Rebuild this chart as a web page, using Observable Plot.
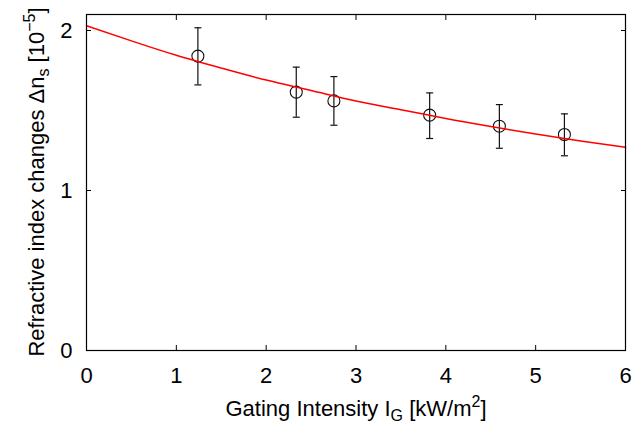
<!DOCTYPE html>
<html><head><meta charset="utf-8">
<script src="https://cdn.jsdelivr.net/npm/d3@7"></script>
<script src="https://cdn.jsdelivr.net/npm/@observablehq/plot@0.6"></script>
<style>body{margin:0;background:#fff} svg{display:block}</style>
</head><body><div id="chart"></div>
<script>
// Measured points
const intensity = [1.24, 2.335, 2.754, 3.82, 4.596, 5.32];
const deltaN    = [1.84, 1.615, 1.56, 1.471, 1.402, 1.35];
const errLow    = [1.66, 1.458, 1.408, 1.325, 1.264, 1.217];
const errHigh   = [2.017, 1.771, 1.712, 1.61, 1.537, 1.479];
// Fit curve
const fitX = [0, 0.5, 1, 1.5, 2, 2.5, 3, 3.5, 4, 4.5, 5, 5.5, 6];
const fitY = [2.03, 1.935, 1.845, 1.765, 1.69, 1.625, 1.56, 1.505, 1.45, 1.40, 1.353, 1.31, 1.27];
// Ticks
const xTicks = [0, 1, 2, 3, 4, 5, 6];
const yTicks = [0, 1, 2];

const points = intensity.map((x, i) => ({x, y: deltaN[i], lo: errLow[i], hi: errHigh[i]}));
const fit = fitX.map((x, i) => ({x, y: fitY[i]}));

const capSymbol = {
  draw(ctx, size) {
    const w = Math.sqrt(size / Math.PI);
    ctx.moveTo(-w, 0); ctx.lineTo(w, 0);
  }
};

const font = "'Liberation Sans', Arial, Helvetica, sans-serif";

const svg = Plot.plot({
  width: 644, height: 427,
  marginLeft: 86, marginRight: 19, marginTop: 14, marginBottom: 77,
  style: {fontFamily: font, fontSize: "22px", color: "black", background: "white"},
  x: {domain: [0, 6]},
  y: {domain: [0, 2.1]},
  marks: [
    Plot.axisX({anchor: "bottom", ticks: xTicks, tickSize: -5, tickPadding: 22, label: null, tickFormat: d3.format("d")}),
    Plot.axisX({anchor: "top", ticks: xTicks, tickSize: -5, label: null, tickFormat: () => ""}),
    Plot.axisY({anchor: "left", ticks: yTicks, tickSize: -5, tickPadding: 19, label: null, tickFormat: d3.format("d")}),
    Plot.axisY({anchor: "right", ticks: yTicks, tickSize: -5, label: null, tickFormat: () => ""}),
    Plot.ruleX(points, {x: "x", y1: "lo", y2: "hi", stroke: "#111", strokeWidth: 1.2}),
    Plot.dot(points, {x: "x", y: "lo", symbol: capSymbol, r: 3.5, stroke: "#111", strokeWidth: 1.2}),
    Plot.dot(points, {x: "x", y: "hi", symbol: capSymbol, r: 3.5, stroke: "#111", strokeWidth: 1.2}),
    Plot.dot(points, {x: "x", y: "y", r: 6, stroke: "#111", fill: "none", strokeWidth: 1.1}),
    Plot.line(fit, {x: "x", y: "y", stroke: "#ff0000", strokeWidth: 1.5, curve: "natural"}),
    Plot.frame({stroke: "black", strokeWidth: 1.2})
  ]
});

const s = d3.select(svg);
// x label
const xl = s.append("text")
  .attr("x", 356).attr("y", 416)
  .attr("text-anchor", "middle")
  .attr("font-family", font).attr("font-size", 22).attr("fill", "black");
xl.append("tspan").text("Gating Intensity I");
xl.append("tspan").attr("font-size", 16).attr("dy", 5).text("G");
xl.append("tspan").attr("dy", -5).text(" [kW/m");
xl.append("tspan").attr("font-size", 16).attr("dy", -9).text("2");
xl.append("tspan").attr("dy", 9).text("]");

// y label
const yl = s.append("text")
  .attr("transform", "translate(44,182) rotate(-90)")
  .attr("text-anchor", "middle")
  .attr("font-family", font).attr("font-size", 22).attr("fill", "black");
yl.append("tspan").text("Refractive index changes \u0394n");
yl.append("tspan").attr("font-size", 16).attr("dy", 5).text("s");
yl.append("tspan").attr("dy", -5).text(" [10");
yl.append("tspan").attr("font-size", 16).attr("dy", -9).text("\u22125");
yl.append("tspan").attr("dy", 9).text("]");

document.getElementById("chart").appendChild(svg);
</script>
</body></html>
